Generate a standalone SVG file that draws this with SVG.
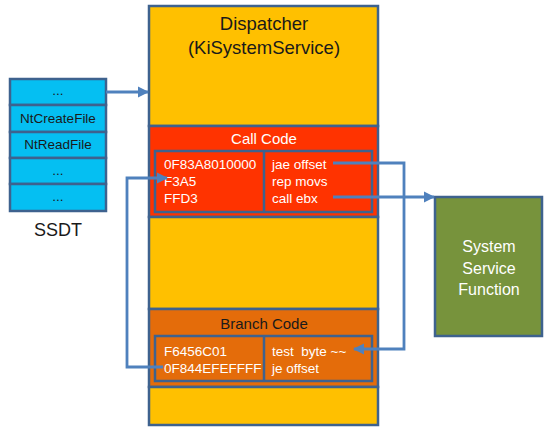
<svg xmlns="http://www.w3.org/2000/svg" width="545" height="428" viewBox="0 0 545 428">
<defs>
<style>
.b{stroke:#3E628E;stroke-width:2.5}
.cell{fill:#05BFF2}
.t{font-family:"Liberation Sans","Noto Sans",Arial,sans-serif}
.w{fill:#FFFFFF}
.k{fill:#1A1A1A}
.c{fill:none;stroke:#4F81BD;stroke-width:2.8}
</style>
<marker id="ah" viewBox="0 0 10 10" refX="9" refY="5" markerWidth="4" markerHeight="4" markerUnits="strokeWidth" orient="auto">
<path d="M0,0 L10,5 L0,10 z" fill="#4F81BD"/>
</marker>
</defs>
<rect width="545" height="428" fill="#FFFFFF"/>
<g id="ssdt">
<rect class="cell b" x="10" y="79" width="96" height="26"/>
<rect class="cell b" x="10" y="105" width="96" height="27"/>
<rect class="cell b" x="10" y="132" width="96" height="26"/>
<rect class="cell b" x="10" y="158" width="96" height="26"/>
<rect class="cell b" x="10" y="184" width="96" height="27"/>
<g class="t k" font-size="13.5" text-anchor="middle">
<text x="58" y="95">...</text>
<text x="58" y="123">NtCreateFile</text>
<text x="58" y="149">NtReadFile</text>
<text x="58" y="175">...</text>
<text x="58" y="201">...</text>
</g>
<text class="t k" x="58" y="236" font-size="18" text-anchor="middle">SSDT</text>
</g>
<g id="dispatcher">
<rect class="b" x="149" y="6" width="229" height="120" fill="#FFC000"/>
<text class="t k" x="264" y="30" font-size="18.5" text-anchor="middle">Dispatcher</text>
<text class="t k" x="264" y="54" font-size="18.5" text-anchor="middle">(KiSystemService)</text>
</g>
<g id="callcode">
<rect class="b" x="149" y="126" width="229" height="91" fill="#FF3300"/>
<text class="t w" x="264" y="144" font-size="15" text-anchor="middle">Call Code</text>
<rect class="b" x="155" y="151" width="217" height="61" fill="none"/>
<line class="b" x1="264" y1="151" x2="264" y2="212"/>
<g class="t w" font-size="13.5">
<text x="164" y="169">0F83A8010000</text>
<text x="164" y="186">F3A5</text>
<text x="164" y="203">FFD3</text>
<text x="272" y="169">jae offset</text>
<text x="272" y="186">rep movs</text>
<text x="272" y="203">call ebx</text>
</g>
</g>
<g id="middle">
<rect class="b" x="149" y="217" width="229" height="92" fill="#FFC000"/>
</g>
<g id="branchcode">
<rect class="b" x="149" y="309" width="229" height="78" fill="#E46C0A"/>
<text class="t k" x="264" y="329" font-size="15" text-anchor="middle">Branch Code</text>
<rect class="b" x="155" y="336" width="217" height="45" fill="none"/>
<line class="b" x1="264" y1="336" x2="264" y2="381"/>
<g class="t w" font-size="13.5">
<text x="164" y="356">F6456C01</text>
<text x="164" y="373">0F844EFEFFFF</text>
<text x="272" y="356" xml:space="preserve" style="white-space:pre">test  byte ~~</text>
<text x="272" y="373">je offset</text>
</g>
</g>
<g id="bottom">
<rect class="b" x="149" y="387" width="229" height="38" fill="#FFC000"/>
</g>
<g id="ssf">
<rect class="b" x="435" y="197" width="107" height="139" fill="#77933C"/>
<g class="t w" font-size="16" text-anchor="middle">
<text x="489" y="252">System</text>
<text x="489" y="274">Service</text>
<text x="489" y="295">Function</text>
</g>
</g>
<g id="connectors">
<path class="c" d="M106,92 L148,92" marker-end="url(#ah)"/>
<path class="c" d="M333,163 L404,163 L404,349 L354,349" marker-end="url(#ah)"/>
<path class="c" d="M333,197 L434,197" marker-end="url(#ah)"/>
<path class="c" d="M163,367 L127,367 L127,178 L167,178" marker-end="url(#ah)"/>
</g>
</svg>
